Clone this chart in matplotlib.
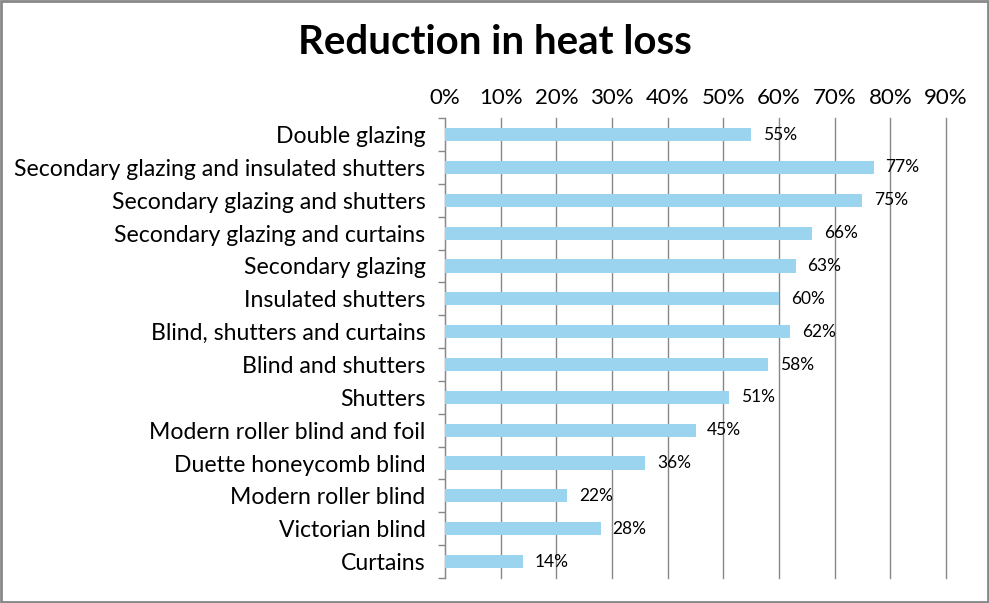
import matplotlib.pyplot as plt
from matplotlib.ticker import PercentFormatter

categories = [
    "Double glazing",
    "Secondary glazing and insulated shutters",
    "Secondary glazing and shutters",
    "Secondary glazing and curtains",
    "Secondary glazing",
    "Insulated shutters",
    "Blind, shutters and curtains",
    "Blind and shutters",
    "Shutters",
    "Modern roller blind and foil",
    "Duette honeycomb blind",
    "Modern roller blind",
    "Victorian blind",
    "Curtains",
]
reduction = [55, 77, 75, 66, 63, 60, 62, 58, 51, 45, 36, 22, 28, 14]

plt.rcParams['font.family'] = ['Lato', 'DejaVu Sans']

fig = plt.figure(figsize=(9.89, 6.03), dpi=100)
ax = fig.add_axes([0.450, 0.0415, 0.5065, 0.7625])

y = list(range(len(categories)))
ax.barh(y, reduction, height=0.4, color='#9BD4EE', zorder=3)
ax.set_ylim(len(categories) - 0.5, -0.5)
ax.set_xlim(0, 90)
ax.set_yticks(y)
ax.set_yticklabels(categories, fontsize=16.6)
ax.set_xticks(range(0, 100, 10))
ax.xaxis.set_major_formatter(PercentFormatter(decimals=0))
ax.xaxis.tick_top()
ax.tick_params(axis='x', length=0, labelsize=16, pad=7)
ax.tick_params(axis='y', which='major', length=0, pad=14)
ax.set_yticks([i + 0.5 for i in range(-1, len(categories))], minor=True)
ax.tick_params(axis='y', which='minor', length=5, color='#888888', width=1)
ax.grid(axis='x', color='#888888', linewidth=1, zorder=0)
for gl in ax.get_xgridlines():
    gl.set_clip_on(False)
for s in ['top', 'right', 'bottom']:
    ax.spines[s].set_visible(False)
ax.spines['left'].set_color('#888888')

for yi, v in zip(y, reduction):
    ax.text(v + 2.1, yi, f"{v}%", va='center', ha='left', fontsize=12.5, zorder=4)

fig.text(0.5, 0.929, "Reduction in heat loss", ha='center', va='center',
         fontsize=29, fontweight='bold')

border = plt.Rectangle((0.001, 0.002), 0.998, 0.996, transform=fig.transFigure,
                       fill=False, edgecolor='#888888', linewidth=2)
fig.patches.append(border)

fig.savefig('out.png', dpi=100)
